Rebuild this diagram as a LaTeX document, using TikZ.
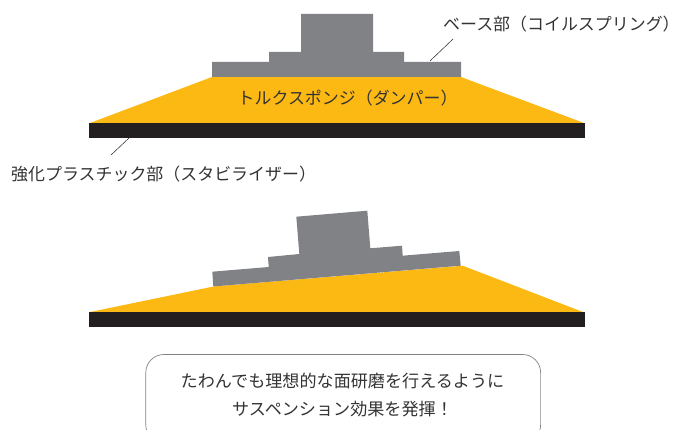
\documentclass[tikz,border=0pt]{standalone}
\usepackage{fontspec}
\setmainfont{Noto Sans CJK JP}
\newfontface\halffont[RawFeature=+halt]{Noto Sans CJK JP}
\definecolor{damper}{HTML}{FDB913}
\definecolor{basegray}{HTML}{808285}
\definecolor{plate}{HTML}{231F20}
\definecolor{labeltext}{HTML}{333333}
\tikzset{
  damperfill/.style={fill=damper,draw=none},
  basefill/.style={fill=basegray,draw=none},
  platefill/.style={fill=plate,draw=none},
  leader/.style={draw=plate,line width=0.5pt},
  lbl/.style={inner sep=0pt,text=labeltext,font=\fontsize{16.95pt}{20pt}\selectfont,anchor=west},
  msg/.style={inner sep=0pt,text=labeltext,font=\fontsize{17.1pt}{20pt}\selectfont,anchor=center},
  callout/.style={draw=basegray,line width=0.7pt,rounded corners=18pt}
}
\begin{document}
\begin{tikzpicture}[x=1pt,y=-1pt]
\useasboundingbox (0,0) rectangle (675,430);
\clip (0,0) rectangle (675,430);
% upper figure
\path[damperfill] (90,123) -- (212,77) -- (461,77) -- (584,123) -- cycle;
\path[platefill] (89,123) rectangle (585,138);
\path[basefill] (212,77) -- (212,62) -- (269,62) -- (269,52) -- (301,52) -- (301,14) -- (373,14) -- (373,52) -- (404,52) -- (404,62) -- (461,62) -- (461,77) -- cycle;
\node[lbl] (damperlabel) at (237.5,98.5) {トルクスポンジ（ダンパー）};
\node[lbl] (baselabel) at (443,24.5) {ベース部（コイルスプリング{\fontsize{16.95pt}{20pt}\halffont ）}};
\node[lbl] (platelabel) at (11,174.5) {強化プラスチック部（スタビライザー）};
\coordinate (basepoint) at (430,61);
\coordinate (baselead) at (453,39);
\coordinate (platepoint) at (129,138);
\coordinate (platelead) at (111,155);
\draw[leader] (baselead) -- (basepoint);
\draw[leader] (platepoint) -- (platelead);
% lower figure
\path[damperfill] (90,312) -- (213.5,286.5) -- (462.7,265.7) -- (583,312) -- cycle;
\path[platefill] (89,312) rectangle (585,327);
\path[basefill] (213.3,286.5) -- (212.3,271.7) -- (268.7,267) -- (268,257) -- (299.3,254) -- (296.3,216.7) -- (367.3,210.7) -- (370.3,248.3) -- (402,245.7) -- (402.7,255.7) -- (459.3,251) -- (460.7,265.7) -- cycle;
% callout
\draw[callout] (145.8,443) rectangle (540.6,354.5);
\node[msg] (line1) at (342.5,381.5) {たわんでも理想的な面研磨を行えるように};
\node[msg] (line2) at (342.5,409.5) {サスペンション効果を発揮！};
\end{tikzpicture}
\end{document}
